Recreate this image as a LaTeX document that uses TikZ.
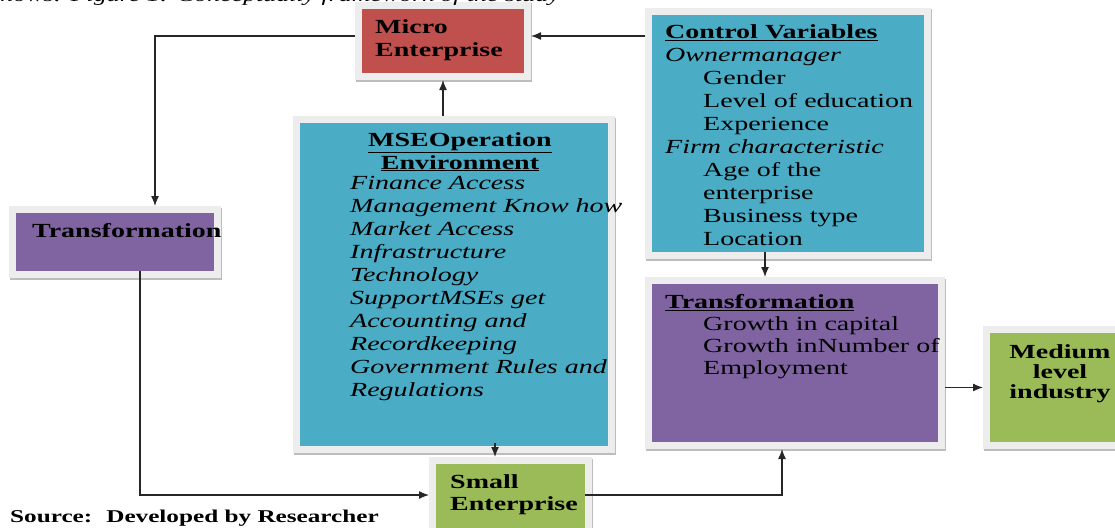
\documentclass[tikz,border=0pt]{standalone}
\usepackage{fontspec}
\setmainfont[FakeStretch=1.4]{Liberation Serif}
\usepackage{tikz}
\usetikzlibrary{arrows.meta}
\definecolor{microred}{HTML}{C0504D}
\definecolor{envblue}{HTML}{4BACC6}
\definecolor{transpurple}{HTML}{8064A2}
\definecolor{smallgreen}{HTML}{9BBB59}
\definecolor{rimgray}{HTML}{EDEDED}
\definecolor{edgegray}{HTML}{BDBDBD}

\begin{document}
\begin{tikzpicture}[x=1pt,y=-1pt,
		box/.style={inner sep=0pt,outer sep=7pt,fill=#1,
			preaction={draw=edgegray,line width=14pt,transform canvas={shift={(1pt,-1.5pt)}}},
			preaction={draw=rimgray,line width=14pt}},
		txt/.style={inner sep=0pt,anchor=north west,align=left,font=\fontsize{20}{23}\selectfont},
		link/.style={line width=1.3pt,draw=black!85,-{Latex[length=10pt,width=8pt]}}]
		\useasboundingbox (0,0) rectangle (1115,527);
		% boxes
		\node[box=microred,minimum width=162pt,minimum height=64pt] (micro) at (443,41) {}; %micro
		\node[box=envblue,minimum width=272pt,minimum height=237pt] (ctrl) at (788,133.5) {}; %control variables
		\node[box=envblue,minimum width=308pt,minimum height=323pt] (mse) at (454,284.5) {}; %operation environment
		\node[box=transpurple,minimum width=198pt,minimum height=58pt] (transa) at (115,242) {}; %left transformation
		\node[box=transpurple,minimum width=286pt,minimum height=158pt] (transb) at (795,363) {}; %right transformation
		\node[box=smallgreen,minimum width=135pt,minimum height=109pt] (medium) at (1057.5,387.5) {}; %medium
		\node[box=smallgreen,minimum width=149pt,minimum height=76pt] (small) at (510.5,502) {}; %small
		% arrows
		\coordinate (inm) at ([yshift=5pt]micro.east);
		\coordinate (outm) at ([yshift=5pt]micro.west);
		\coordinate (ins) at ([yshift=7pt]small.west);
		\coordinate (outs) at ([shift={(-7pt,7pt)}]small.east);
		\coordinate (ctrlout) at ([shift={(-23pt,7pt)}]ctrl.south);
		\coordinate (mseout) at ([shift={(41pt,10pt)}]mse.south);
		\draw[link] (ctrl.west |- inm) -- (inm);
		\draw[link] (outm) -| ([xshift=40pt]transa.north);
		\draw[link] (mse.north -| micro.south) -- (micro.south);
		\draw[link] ([shift={(25pt,7pt)}]transa.south) |- (ins);
		\draw[link] (mseout) -- (mseout |- small.north);
		\draw[link] (outs) -| ([xshift=-13pt]transb.south);
		\draw[link] (ctrlout) -- (ctrlout |- transb.north);
		\draw[link] (transb.east |- medium.west) -- (medium.west);
		% texts
		\node[txt,anchor=base east,font=\fontsize{18.5}{20}\selectfont] (caption) at (560,2) {\textit{Shows: Figure 1: Conceptually framework of the study}};
		\node[txt] (microtxt) at (375,19) {\textbf{Micro}\\\textbf{Enterprise}};
		\node[txt] (ctrltxt) at (665,24) {\underline{\textbf{Control Variables}}\\
			\textit{Ownermanager}\\
			\hspace*{38pt}Gender\\
			\hspace*{38pt}Level of education\\
			\hspace*{38pt}Experience\\
			\textit{Firm characteristic}\\
			\hspace*{38pt}Age of the\\
			\hspace*{38pt}enterprise\\
			\hspace*{38pt}Business type\\
			\hspace*{38pt}Location};
		\node[txt,anchor=north,align=center] (msehead) at (460,132) {\underline{\textbf{MSEOperation}}\\\underline{\textbf{Environment}}};
		\node[txt,font=\fontsize{20}{23}\selectfont\itshape] (msetxt) at (350,176) {Finance Access\\
			Management Know how\\
			Market Access\\
			Infrastructure\\
			Technology\\
			SupportMSEs get\\
			Accounting and\\
			Recordkeeping\\
			Government Rules and\\
			Regulations};
		\node[txt] (transatxt) at (32,223) {\textbf{Transformation}};
		\node[txt,font=\fontsize{20}{22}\selectfont] (transbtxt) at (665,294) {\underline{\textbf{Transformation}}\\
			\hspace*{38pt}Growth in capital\\
			\hspace*{38pt}Growth inNumber of\\
			\hspace*{38pt}Employment};
		\node[txt,anchor=north,align=center,font=\fontsize{20}{20}\selectfont\bfseries] (mediumtxt) at (1060,344) {Medium\\level\\industry};
		\node[txt,font=\fontsize{20}{22}\selectfont\bfseries] (smalltxt) at (450,474) {Small\\Enterprise};
		\node[txt,anchor=base west,font=\fontsize{18}{20}\selectfont\bfseries] (source) at (10,522) {Source:\hspace{14pt}Developed by Researcher};
	\end{tikzpicture}
\end{document}
